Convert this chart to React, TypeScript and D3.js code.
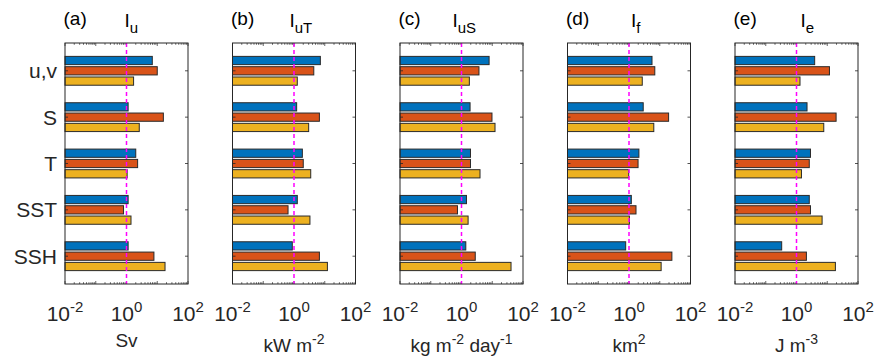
import React from 'react';
import * as d3 from 'd3';

const categories = ['u,v', 'S', 'T', 'SST', 'SSH'];
const seriesColors = ['#0072BD', '#D95319', '#EDB120'];
const panelLetters = ['(a)', '(b)', '(c)', '(d)', '(e)'];
const titleSubs = ['u', 'uT', 'uS', 'f', 'e'];

// values[category][series] for each panel
const valuesA = [[6.9, 10, 1.7], [1.13, 15.8, 2.6], [2.0, 2.3, 1.05], [1.13, 0.8, 1.4], [1.13, 7.8, 17.9]];
const valuesB = [[7.2, 4.4, 1.28], [1.22, 6.7, 3.0], [1.87, 2.0, 3.5], [1.28, 0.64, 3.3], [0.88, 6.7, 12.2]];
const valuesC = [[7.9, 3.7, 1.8], [1.9, 9.8, 12.3], [1.96, 1.96, 4.0], [1.45, 0.74, 1.64], [1.38, 2.8, 40.8]];
const valuesD = [[5.6, 6.9, 2.7], [2.9, 19.4, 6.4], [2.1, 1.97, 0.98], [1.19, 1.69, 1.03], [0.78, 24.8, 11.1]];
const valuesE = [[3.9, 11.8, 1.3], [2.2, 19.4, 7.7], [2.85, 2.6, 1.45], [2.6, 2.85, 6.8], [0.33, 2.1, 18.4]];
const panelValues = [valuesA, valuesB, valuesC, valuesD, valuesE];

const unitsA = [{ t: 'Sv', sup: '' }];
const unitsB = [{ t: 'kW m', sup: '-2' }];
const unitsC = [{ t: 'kg m', sup: '-2' }, { t: ' day', sup: '-1' }];
const unitsD = [{ t: 'km', sup: '2' }];
const unitsE = [{ t: 'J m', sup: '-3' }];
const panelUnits = [unitsA, unitsB, unitsC, unitsD, unitsE];

const tickValues = [1e-2, 1e0, 1e2];
const tickExponents = ['-2', '0', '2'];
const refValue = 1;

const FONT = '"Liberation Sans", Arial, Helvetica, sans-serif';
const AX = '#262626';

const W = 878, H = 358;
const panelLeft0 = 65, panelStep = 167.5, panelW = 123;
const top = 43, bottom = 284;
const titleIOffsets = [-1, -3.5, -8, 3, 5];

function Panel({ idx }: { idx: number }) {
  const left = panelLeft0 + idx * panelStep;
  const x = d3.scaleLog().domain([1e-2, 1e2]).range([left, left + panelW]);
  const y = d3.scaleLinear().domain([0.4, 5.6]).range([top, bottom]);
  const values = panelValues[idx];
  const barOff = 0.2222;
  const barH = y(0.1778) - y(0);
  const minor: number[] = [];
  for (let e = -2; e < 2; e++) for (let m = 1; m < 10; m++) minor.push(m * Math.pow(10, e));
  minor.push(1e2);
  const cx = x(1);
  const units = panelUnits[idx];
  const hasSup = units.some(u => u.sup !== '');
  const unitBase = hasSup ? 352 : 347;
  return (
    <g>
      {/* bars */}
      {values.map((row, ci) =>
        row.map((v, si) => {
          const yc = y(ci + 1 + (si - 1) * barOff);
          return (
            <rect key={`${ci}-${si}`} x={x(1e-2)} y={yc - barH / 2} width={x(v) - x(1e-2)} height={barH}
              fill={seriesColors[si]} stroke="#2a2a2a" strokeWidth={1} />
          );
        })
      )}
      {/* minor/major ticks top & bottom */}
      {minor.map((m, i) => {
        const isMajor = Math.abs(Math.log10(m) - Math.round(Math.log10(m))) < 1e-9;
        const len = isMajor ? 3 : 1.8;
        return (
          <g key={i} stroke={AX} strokeWidth={0.7}>
            <line x1={x(m)} x2={x(m)} y1={bottom} y2={bottom - len} />
            <line x1={x(m)} x2={x(m)} y1={top} y2={top + len} />
          </g>
        );
      })}
      {/* y ticks */}
      {categories.map((c, ci) => (
        <g key={c} stroke={AX} strokeWidth={0.8}>
          <line x1={left} x2={left + 3} y1={y(ci + 1)} y2={y(ci + 1)} />
          <line x1={left + panelW} x2={left + panelW - 3} y1={y(ci + 1)} y2={y(ci + 1)} />
        </g>
      ))}
      {/* reference line */}
      <line x1={cx} x2={cx} y1={top} y2={bottom} stroke="#FF00FF" strokeWidth={1.5} strokeDasharray="4,3" />
      {/* box */}
      <rect x={left} y={top} width={panelW} height={bottom - top} fill="none" stroke={AX} strokeWidth={1} />
      {/* tick labels */}
      {tickValues.map((t, i) => (
        <text key={t} x={x(t)} y={321} textAnchor="middle" fontSize={21} fill={AX} fontFamily={FONT}>
          10<tspan dy={-9} fontSize={15}>{tickExponents[i]}</tspan>
        </text>
      ))}
      {/* unit label */}
      <text x={cx} y={unitBase} textAnchor="middle" fontSize={19} fill={AX} fontFamily={FONT}>
        {units.map((u, i) => (
          <React.Fragment key={i}>
            <tspan dy={i === 0 ? 0 : 8}>{u.t}</tspan>
            {u.sup !== '' && <tspan dy={-8} fontSize={14}>{u.sup}</tspan>}
          </React.Fragment>
        ))}
      </text>
      {/* title */}
      <text x={left - 1.5} y={25} fontSize={19} fill="#000" fontFamily={FONT}>{panelLetters[idx]}</text>
      <text x={cx + titleIOffsets[idx] - 1} y={27} fontSize={19} fill="#000" fontFamily={FONT}>
        I<tspan dy={6} fontSize={15}>{titleSubs[idx]}</tspan>
      </text>
      {/* category labels for first panel */}
      {idx === 0 && categories.map((c, ci) => (
        <text key={c} x={left - 8} y={y(ci + 1) + 7.5} textAnchor="end" fontSize={21} fill={AX} fontFamily={FONT}>{c}</text>
      ))}
    </g>
  );
}

export default function App() {
  return (
    <svg width={W} height={H} style={{ position: 'absolute', left: 0, top: 0, background: '#fff' }}>
      <rect x={0} y={0} width={W} height={H} fill="#fff" />
      {panelValues.map((_, i) => <Panel key={i} idx={i} />)}
    </svg>
  );
}
